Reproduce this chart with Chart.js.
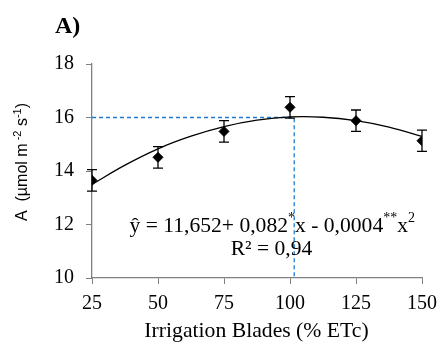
<!DOCTYPE html>
<html><head><meta charset="utf-8">
<script src="https://cdn.jsdelivr.net/npm/chart.js@4"></script>
<style>html,body{margin:0;padding:0;background:#fff}#wrap{width:439px;height:343px;position:relative}</style>
</head><body><div id="wrap"><canvas id="c"></canvas></div>
<script>
const blades = [25, 50, 75, 100, 125, 150];
const meanA = [13.65, 14.51, 15.48, 16.38, 15.88, 15.13];
const errA = [0.40, 0.40, 0.40, 0.40, 0.40, 0.40];
const fitX = [25, 37.5, 50, 62.5, 75, 87.5, 100, 112.5, 125, 137.5, 150];
const fitY = [13.50, 14.22, 14.83, 15.30, 15.66, 15.90, 16.02, 16.01, 15.88, 15.64, 15.29];
const optX = [25, 101.6, 101.6];
const optY = [16, 16, 10];
const xTicks = [25, 50, 75, 100, 125, 150];
const yTicks = [10, 12, 14, 16, 18];
const panelLabel = 'A)';
const xTitle = 'Irrigation Blades (% ETc)';
const yTitleParts = [['A  (µmol m', false], [' -2', true], [' s', false], ['-1', true], [')', false]];
const eqParts = [['ŷ = 11,652+ 0,082', false], ['*', true], ['x - 0,0004', false], ['**', true], ['x', false], ['2', true]];
const r2Text = 'R² = 0,94';

const SERIF = '"Liberation Serif", "Times New Roman", serif';
const SANS = '"Liberation Sans", Arial, sans-serif';

function pts(xs, ys) { return xs.map((x, i) => ({x: x, y: ys[i]})); }

function drawRich(ctx, parts, x, y, size, family, supSize, supRise, align) {
  let total = 0;
  const widths = parts.map(([t, sup]) => {
    ctx.font = (sup ? supSize : size) + 'px ' + family;
    const w = ctx.measureText(t).width; total += w; return w;
  });
  let cx = align === 'center' ? x - total / 2 : x;
  parts.forEach(([t, sup], i) => {
    ctx.font = (sup ? supSize : size) + 'px ' + family;
    ctx.fillText(t, cx, sup ? y - supRise : y);
    cx += widths[i];
  });
}

const extras = {
  id: 'extras',
  afterDatasetsDraw(chart) {
    const ctx = chart.ctx, xs = chart.scales.x, ys = chart.scales.y;
    ctx.save();
    // error bars
    ctx.strokeStyle = '#000'; ctx.lineWidth = 1.3;
    blades.forEach((b, i) => {
      const px = xs.getPixelForValue(b);
      const t = ys.getPixelForValue(meanA[i] + errA[i]);
      const bt = ys.getPixelForValue(meanA[i] - errA[i]);
      ctx.beginPath();
      ctx.moveTo(px, t); ctx.lineTo(px, bt);
      ctx.moveTo(px - 5, t); ctx.lineTo(px + 5, t);
      ctx.moveTo(px - 5, bt); ctx.lineTo(px + 5, bt);
      ctx.stroke();
    });
    ctx.fillStyle = '#000';
    ctx.textBaseline = 'alphabetic';
    ctx.textAlign = 'left';
    // equation
    drawRich(ctx, eqParts, 129.5, 232, 21.6, SERIF, 14, 10, 'left');
    ctx.textAlign = 'center';
    ctx.font = '21.6px ' + SERIF;
    ctx.fillText(r2Text, 271.5, 255);
    // panel label
    ctx.textAlign = 'left';
    ctx.font = 'bold 24px ' + SERIF;
    ctx.fillText(panelLabel, 55, 33);
    // x title
    ctx.textAlign = 'center';
    ctx.font = '21.7px ' + SERIF;
    ctx.fillText(xTitle, 256.5, 337);
    // y title
    ctx.save();
    ctx.translate(27, 162);
    ctx.rotate(-Math.PI / 2);
    ctx.textAlign = 'left';
    drawRich(ctx, yTitleParts, 0, 0, 16, SANS, 11, 6, 'center');
    ctx.restore();
    ctx.restore();
  }
};

new Chart(document.getElementById('c'), {
  type: 'scatter',
  data: {
    datasets: [
      { data: pts(optX, optY), showLine: true, borderColor: '#1f7bd0', borderWidth: 1.3, borderDash: [4, 3], pointRadius: 0, fill: false, order: 3 },
      { data: pts(fitX, fitY), showLine: true, borderColor: '#000', borderWidth: 1.3, pointRadius: 0, tension: 0.4, fill: false, order: 2 },
      { data: pts(blades, meanA), showLine: false, pointStyle: 'rectRot', pointRadius: 5, backgroundColor: '#000', borderColor: '#000', borderWidth: 1, order: 1 }
    ]
  },
  options: {
    responsive: true, maintainAspectRatio: false, animation: false, devicePixelRatio: 1,
    layout: { padding: { top: 64, right: 17, left: 0, bottom: 0 } },
    plugins: { legend: { display: false }, tooltip: { enabled: false } },
    scales: {
      x: {
        type: 'linear', min: 25, max: 150,
        afterBuildTicks: s => { s.ticks = xTicks.map(v => ({value: v})); },
        afterFit: s => { s.height = 65; s.paddingLeft = 0; s.paddingRight = 0; },
        grid: { drawOnChartArea: false, drawTicks: true, tickLength: 6, color: '#808080' },
        border: { display: true, color: '#808080', width: 1.3 },
        ticks: { color: '#000', font: { family: SERIF, size: 20 }, padding: 8, maxRotation: 0 }
      },
      y: {
        type: 'linear', min: 10, max: 18,
        afterBuildTicks: s => { s.ticks = yTicks.map(v => ({value: v})); },
        afterFit: s => { s.width = 92; s.paddingTop = 0; s.paddingBottom = 0; },
        grid: { drawOnChartArea: false, drawTicks: true, tickLength: 6, color: '#808080' },
        border: { display: true, color: '#808080', width: 1.3 },
        ticks: { color: '#000', font: { family: SERIF, size: 20 }, padding: 12 }
      }
    }
  },
  plugins: [extras]
});
</script>
</body></html>
